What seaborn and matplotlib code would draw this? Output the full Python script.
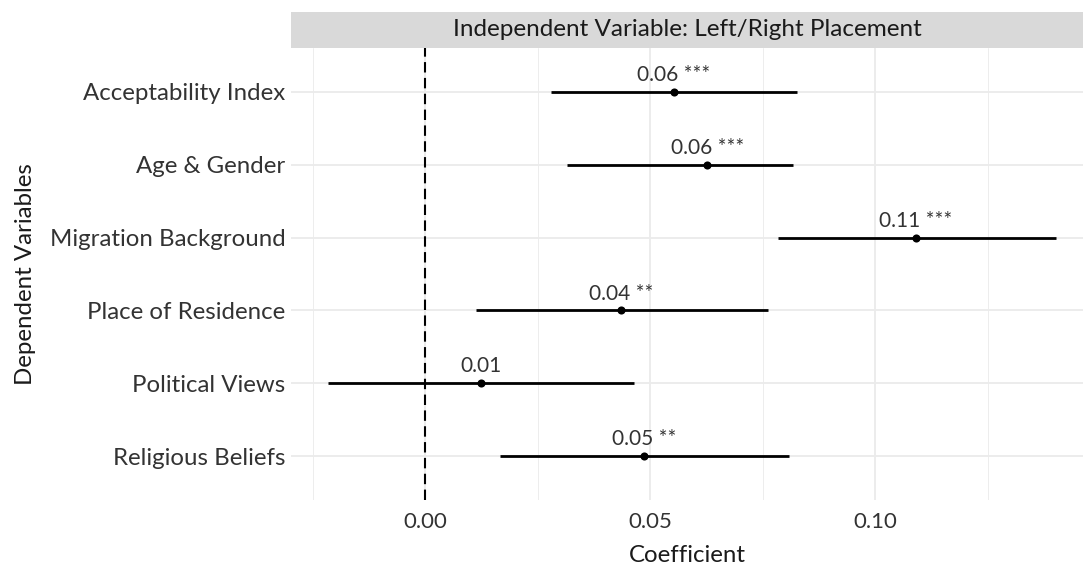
import numpy as np
import pandas as pd
import matplotlib
matplotlib.use("Agg")
import matplotlib.pyplot as plt
import seaborn as sns
from matplotlib.ticker import MultipleLocator

categories = ["Acceptability Index", "Age & Gender", "Migration Background",
              "Place of Residence", "Political Views", "Religious Beliefs"]
estimate = [0.0553, 0.0627, 0.1091, 0.0436, 0.0124, 0.0487]
ci_low = [0.0280, 0.0316, 0.0784, 0.0113, -0.0216, 0.0167]
ci_high = [0.0827, 0.0818, 0.1402, 0.0762, 0.0464, 0.0809]
labels = ["0.06 ***", "0.06 ***", "0.11 ***", "0.04 **", "0.01", "0.05 **"]
xticks = [0.00, 0.05, 0.10]
xticklabels = ["0.00", "0.05", "0.10"]
strip_title = "Independent Variable: Left/Right Placement"

sns.set_theme(style="whitegrid")
plt.rcParams["font.family"] = ["Lato", "DejaVu Sans"]

df = pd.DataFrame({"cat": categories, "est": estimate, "lo": ci_low,
                   "hi": ci_high, "lab": labels})
df["pos"] = np.arange(len(df))

fig = plt.figure(figsize=(10.83, 5.65), dpi=100)
L, R, B, T = 291 / 1083, 1083 / 1083, 1 - 500 / 565, 1 - 48 / 565
ax = fig.add_axes([L, B, R - L, T - B])
sax = fig.add_axes([L, T, R - L, 36 / 565])

ax.set_facecolor("white")
for s in ax.spines.values():
    s.set_visible(False)

# gridlines
ax.xaxis.set_major_locator(MultipleLocator(0.05))
ax.xaxis.set_minor_locator(MultipleLocator(0.025))
ax.grid(which="major", axis="both", color="#ebebeb", linewidth=1.3)
ax.grid(which="minor", axis="x", color="#ededed", linewidth=0.7)
ax.set_axisbelow(True)

ax.axvline(0, color="black", linestyle=(0, (5, 2.6)), linewidth=1.5, zorder=1)
ax.hlines(df["pos"], df["lo"], df["hi"], color="black", linewidth=2.0, zorder=2)
sns.scatterplot(data=df, x="est", y="pos", color="black", s=34, ax=ax,
                zorder=3, edgecolor="black", linewidth=0, legend=False)
for _, r in df.iterrows():
    ax.annotate(r["lab"], (r["est"], r["pos"]), xytext=(0, 5),
                textcoords="offset points", ha="center", va="bottom",
                fontsize=15, color="#333333")

ax.set_xlim(-0.0298, 0.1462)
ax.set_ylim(len(df) - 0.4, -0.6)
ax.set_yticks(df["pos"])
ax.set_yticklabels(categories)
ax.set_xticks(xticks)
ax.set_xticklabels(xticklabels)
ax.tick_params(axis="y", which="both", length=0, labelsize=17.3,
               labelcolor="#333333", pad=4)
ax.tick_params(axis="x", which="both", length=0, labelsize=16,
               labelcolor="#333333", pad=9)
ax.set_xlabel("Coefficient", fontsize=17.3, color="#1a1a1a", labelpad=9)
ax.set_ylabel("Dependent Variables", fontsize=17.3, color="#1a1a1a", labelpad=10)

sax.set_facecolor("#d9d9d9")
sax.set_xticks([])
sax.set_yticks([])
for s in sax.spines.values():
    s.set_visible(False)
sax.text(0.5, 0.5, strip_title, ha="center", va="center", fontsize=17.5,
         color="#1a1a1a", transform=sax.transAxes)

fig.savefig("out.png", dpi=100)
